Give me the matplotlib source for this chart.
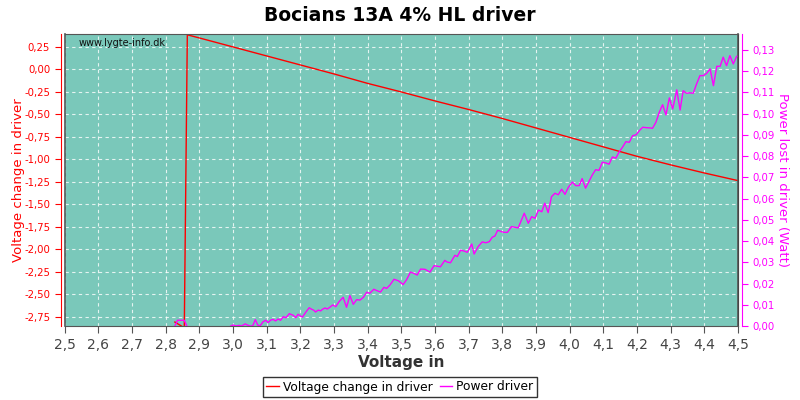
import matplotlib
matplotlib.use("Agg")
import matplotlib.pyplot as plt
from matplotlib.ticker import FuncFormatter, MultipleLocator

# voltage change in driver (left axis)
v_red = [2.827, 2.855, 2.864, 2.9, 3.0, 3.1, 3.2, 3.3, 3.4, 3.5, 3.6, 3.7,
         3.8, 3.9, 4.0, 4.1, 4.2, 4.3, 4.4, 4.5]
dv_red = [-2.806, -2.87, 0.385, 0.35, 0.25, 0.15, 0.05, -0.05, -0.155, -0.25,
          -0.35, -0.445, -0.545, -0.65, -0.755, -0.86, -0.965, -1.06, -1.15,
          -1.235]

# power lost in driver (right axis)
v_pow = [2.827, 2.835, 2.855, 2.865, None,
         2.993, 3.000, 3.008, 3.018, 3.025, 3.036, 3.042, 3.050, 3.058, 3.066,
         3.073, 3.080, 3.089, 3.097, 3.104, 3.112, 3.119, 3.126, 3.134, 3.141,
         3.149, 3.157, 3.167, 3.174, 3.179, 3.186, 3.193, 3.201, 3.206, 3.215,
         3.226, 3.233, 3.240, 3.245, 3.253, 3.260, 3.266, 3.273, 3.280, 3.288,
         3.296, 3.305, 3.315, 3.327, 3.337, 3.347, 3.357, 3.367, 3.377, 3.387,
         3.397, 3.406, 3.418, 3.428, 3.438, 3.448, 3.456, 3.466, 3.478, 3.491,
         3.505, 3.515, 3.527, 3.537, 3.547, 3.557, 3.570, 3.585, 3.597, 3.609,
         3.616, 3.629, 3.636, 3.646, 3.659, 3.666, 3.676, 3.686, 3.696, 3.709,
         3.716, 3.728, 3.740, 3.751, 3.761, 3.770, 3.778, 3.786, 3.798, 3.805,
         3.815, 3.827, 3.837, 3.847, 3.865, 3.877, 3.887, 3.897, 3.907, 3.917,
         3.926, 3.936, 3.946, 3.956, 3.966, 3.976, 3.986, 3.996, 4.008, 4.018,
         4.028, 4.037, 4.047, 4.057, 4.067, 4.077, 4.087, 4.097, 4.107, 4.117,
         4.127, 4.137, 4.147, 4.157, 4.167, 4.177, 4.187, 4.197, 4.207, 4.217,
         4.227, 4.237, 4.246, 4.256, 4.266, 4.276, 4.286, 4.296, 4.306, 4.318,
         4.328, 4.337, 4.347, 4.357, 4.367, 4.377, 4.387, 4.397, 4.407, 4.417,
         4.427, 4.437, 4.447, 4.456, 4.466, 4.476, 4.486, 4.496]
p_pow = [0.0, 0.0027, 0.0027, -0.001, None,
         0.0, 0.0005, 0.0, 0.0003, 0.0, 0.001, 0.0005, 0.0, 0.0, 0.003,
         0.0005, 0.0, 0.002, 0.0027, 0.0016, 0.0028, 0.0031, 0.0024, 0.0033, 0.0027,
         0.0044, 0.0039, 0.0058, 0.0053, 0.0050, 0.0039, 0.0055, 0.0046, 0.0042, 0.0063,
         0.0086, 0.0079, 0.0074, 0.0066, 0.0075, 0.0071, 0.0079, 0.0085, 0.0080, 0.0089,
         0.0099, 0.0091, 0.0115, 0.0135, 0.0088, 0.0143, 0.0102, 0.0124, 0.0122, 0.0135,
         0.0159, 0.0154, 0.0173, 0.0166, 0.0160, 0.0182, 0.0177, 0.0193, 0.0220, 0.0213,
         0.0195, 0.0217, 0.0254, 0.0248, 0.0240, 0.0268, 0.0267, 0.0254, 0.0284, 0.0281,
         0.0279, 0.0309, 0.0301, 0.0298, 0.0333, 0.0327, 0.0357, 0.0353, 0.0347, 0.0386,
         0.0339, 0.0374, 0.0396, 0.0392, 0.0397, 0.0418, 0.0424, 0.0451, 0.0444, 0.0441,
         0.0441, 0.0468, 0.0465, 0.0462, 0.0531, 0.0484, 0.0515, 0.0507, 0.0546, 0.0538,
         0.0578, 0.0534, 0.0609, 0.0625, 0.0618, 0.0644, 0.0620, 0.0653, 0.0678, 0.0661,
         0.0661, 0.0694, 0.0649, 0.0680, 0.0711, 0.0736, 0.0733, 0.0771, 0.0768, 0.0762,
         0.0796, 0.0790, 0.0820, 0.0842, 0.0868, 0.0865, 0.0896, 0.0900, 0.0920, 0.0936,
         0.0934, 0.0933, 0.0931, 0.0959, 0.1006, 0.1042, 0.0994, 0.1074, 0.1022, 0.1112,
         0.1017, 0.1108, 0.1096, 0.1098, 0.1096, 0.1140, 0.1179, 0.1179, 0.1190, 0.1211,
         0.1132, 0.1223, 0.1223, 0.1266, 0.1226, 0.1273, 0.1234, 0.1270]

x_ticks = [2.5 + 0.1 * i for i in range(21)]

red = "#ff0000"
mag = "#ff00ff"
grey = "#555555"


def comma(fmt):
    return FuncFormatter(lambda v, pos: (fmt % v).replace(".", ","))


fig = plt.figure(figsize=(8, 4), dpi=100)
ax = fig.add_axes([0.081, 0.185, 0.8415, 0.73])
ax.set_facecolor("#7ac8ba")
ax2 = ax.twinx()

ax.plot(v_red, dv_red, color=red, lw=1.0, label="Voltage change in driver")
vp = [float("nan") if v is None else v for v in v_pow]
pp = [float("nan") if p is None else p for p in p_pow]
ax2.plot(vp, pp, color=mag, lw=1.0, label="Power driver")

ax.set_xlim(2.5, 4.5)
ax.set_ylim(-2.85, 0.394)
ax2.set_ylim(0.0, 0.1375)

ax.set_xticks(x_ticks)
ax.xaxis.set_major_formatter(comma("%.1f"))
ax.yaxis.set_major_locator(MultipleLocator(0.25))
ax.yaxis.set_major_formatter(comma("%.2f"))
ax2.yaxis.set_major_locator(MultipleLocator(0.01))
ax2.yaxis.set_major_formatter(comma("%.2f"))

ax.grid(True, color="white", ls=(0, (3, 3)), lw=0.8, alpha=0.8)
ax.set_axisbelow(True)

for s in ["top", "bottom"]:
    ax.spines[s].set_color(grey)
ax.spines["left"].set_position(("outward", 3))
ax.spines["left"].set_color(red)
ax2.spines["right"].set_position(("outward", 3))
ax2.spines["right"].set_color(mag)
ax2.spines["left"].set_visible(False)
ax2.spines["top"].set_visible(False)
ax2.spines["bottom"].set_visible(False)
for xx in (0, 1):
    ax.plot([xx, xx], [0, 1], transform=ax.transAxes, color=grey, lw=1.2,
            clip_on=False, zorder=5)

ax.tick_params(axis="x", colors=grey, labelcolor="#444444", labelsize=10,
               length=5, direction="out")
ax.tick_params(axis="y", colors=red, labelcolor=red, labelsize=7.3, length=4)
ax2.tick_params(axis="y", colors=mag, labelcolor=mag, labelsize=7.3, length=4)

ax.set_xlabel("Voltage in", fontsize=11, fontweight="bold", color="#333333",
              labelpad=2)
ax.set_ylabel("Voltage change in driver", color=red, fontsize=9.5)
ax.yaxis.set_label_coords(-0.059, 0.5)
ax2.set_ylabel("Power lost in driver (Watt)", color=mag, fontsize=9.5,
               rotation=270, va="center")
ax2.yaxis.set_label_coords(1.066, 0.5)

fig.suptitle("Bocians 13A 4% HL driver", fontsize=13.5, fontweight="bold",
             y=0.985)
ax.text(0.02, 0.985, "www.lygte-info.dk", transform=ax.transAxes, fontsize=7,
        va="top", ha="left", color="#111111")

h1, l1 = ax.get_legend_handles_labels()
h2, l2 = ax2.get_legend_handles_labels()
leg = fig.legend(h1 + h2, l1 + l2, loc="center", bbox_to_anchor=(0.5, 0.0325),
                 ncol=2, fontsize=8.8, frameon=True, fancybox=False,
                 edgecolor="black", handlelength=1.0, handletextpad=0.35,
                 columnspacing=0.6, borderpad=0.3, borderaxespad=0)
leg.get_frame().set_linewidth(1.0)

fig.savefig("out.png", dpi=100)
